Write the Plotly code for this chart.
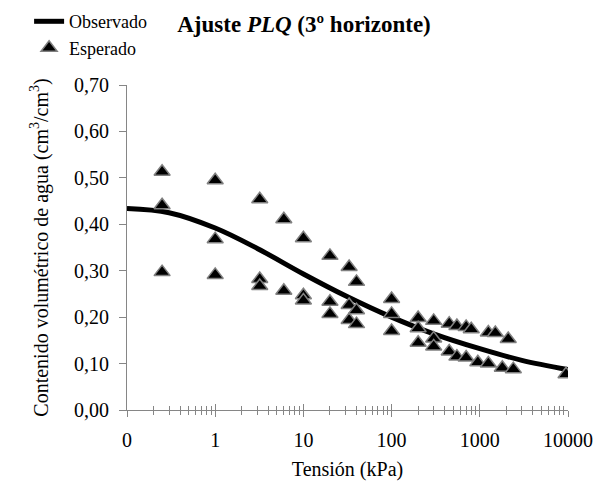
import plotly.graph_objects as go

# Observado (fitted curve)
x_obs = [0.1, 0.3, 1, 3, 10, 30, 100, 300, 1000, 3000, 10000]
y_obs = [0.434, 0.425, 0.392, 0.348, 0.293, 0.246, 0.200, 0.164, 0.132, 0.107, 0.087]

# Esperado (measured points)
x_esp = [0.25, 0.25, 0.25,
         1, 1, 1,
         3.2, 3.2, 3.2,
         6, 6,
         10, 10, 10,
         20, 20, 20,
         33, 33, 33,
         40, 40, 40,
         100, 100, 100,
         200, 200, 200,
         300, 300, 300,
         450, 450,
         550, 550,
         700, 700,
         800, 950,
         1250, 1250,
         1500, 1800,
         2100, 2400,
         9500]
y_esp = [0.513, 0.441, 0.297,
         0.495, 0.368, 0.291,
         0.454, 0.282, 0.267,
         0.411, 0.257,
         0.370, 0.247, 0.236,
         0.332, 0.233, 0.207,
         0.308, 0.226, 0.194,
         0.276, 0.215, 0.185,
         0.239, 0.207, 0.170,
         0.198, 0.176, 0.145,
         0.192, 0.154, 0.137,
         0.186, 0.126,
         0.181, 0.115,
         0.179, 0.113,
         0.174, 0.103,
         0.167, 0.100,
         0.166, 0.091,
         0.153, 0.088,
         0.077]

x_tickvals = [0.1, 1, 10, 100, 1000, 10000]
x_ticktext = ["0", "1", "10", "100", "1000", "10000"]
y_tickvals = [0, 0.1, 0.2, 0.3, 0.4, 0.5, 0.6, 0.7]

minor_vals = [k * 10 ** d for d in range(-1, 4) for k in range(2, 10)]

FONT = "Times New Roman"
AX = "#868686"

fig = go.Figure()
fig.add_trace(go.Scatter(
    x=x_obs, y=y_obs, mode="lines", name="Observado",
    line=dict(color="black", width=5, shape="spline", smoothing=1.0),
))
fig.add_trace(go.Scatter(
    x=x_esp, y=y_esp, mode="markers", name="Esperado",
    marker=dict(symbol="triangle-up", size=14, color="black",
                line=dict(color="#808080", width=1.5)),
))
fig.add_trace(go.Scatter(x=[], y=[], xaxis="x2", showlegend=False, hoverinfo="skip"))

fig.update_layout(
    template="none",
    width=608, height=481,
    margin=dict(l=127, r=40, t=85, b=71, autoexpand=False),
    paper_bgcolor="white", plot_bgcolor="white",
    separators=",.",
    font=dict(family=FONT, size=20, color="black"),
    title=dict(text="<b>Ajuste <i>PLQ</i> (3º horizonte)</b>",
               x=0.5, xref="container", xanchor="center",
               y=1 - 24 / 481, yref="container", yanchor="middle",
               font=dict(family=FONT, size=23, color="black")),
    legend=dict(x=-0.222, y=1.252, xanchor="left", yanchor="top",
                font=dict(family=FONT, size=18, color="black"),
                bgcolor="rgba(0,0,0,0)", tracegroupgap=0),
    xaxis=dict(
        type="log", range=[-1, 4],
        tickmode="array", tickvals=x_tickvals, ticktext=x_ticktext,
        ticks="outside", ticklen=6, tickcolor=AX, tickwidth=1,
        showline=True, linecolor=AX, linewidth=1,
        showgrid=False, zeroline=False,
        ticklabelstandoff=6,
        minor=dict(tickmode="array", tickvals=minor_vals, ticks="outside",
                   ticklen=4, tickcolor=AX, tickwidth=1, showgrid=False),
        title=dict(text="Tensión (kPa)", standoff=11,
                   font=dict(family=FONT, size=20, color="black")),
        tickfont=dict(family=FONT, size=20, color="black"),
    ),
    xaxis2=dict(
        type="log", range=[-1, 4], overlaying="x", anchor="y", side="bottom",
        tickmode="array", tickvals=x_tickvals,
        ticks="inside", ticklen=6, tickcolor=AX, tickwidth=1,
        showticklabels=False, showline=False, showgrid=False, zeroline=False,
        minor=dict(tickmode="array", tickvals=minor_vals, ticks="inside",
                   ticklen=4, tickcolor=AX, tickwidth=1, showgrid=False),
    ),
    yaxis=dict(
        range=[0, 0.7], tickmode="array", tickvals=y_tickvals,
        tickformat=".2f",
        ticks="outside", ticklen=7, tickcolor=AX, tickwidth=1,
        showline=True, linecolor=AX, linewidth=1,
        showgrid=False, zeroline=False,
        ticklabelstandoff=6,
        title=dict(text="Contenido volumétrico de agua (cm<sup>3</sup>/cm<sup>3</sup>)",
                   standoff=20, font=dict(family=FONT, size=20, color="black")),
        tickfont=dict(family=FONT, size=20, color="black"),
    ),
)

fig.write_html("out.html")
